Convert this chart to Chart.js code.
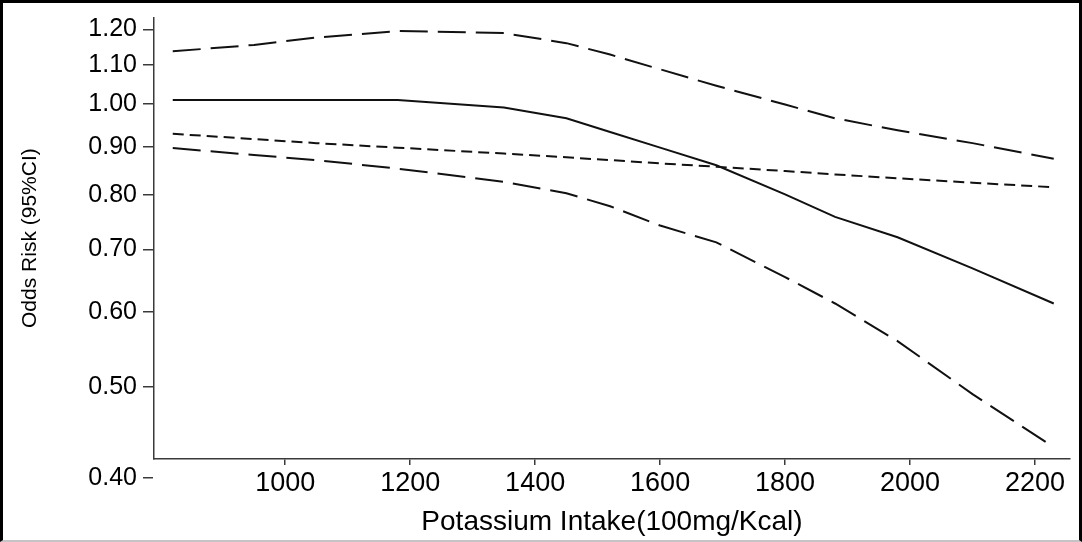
<!DOCTYPE html>
<html><head><meta charset="utf-8">
<script src="https://cdn.jsdelivr.net/npm/chart.js@4.4.1/dist/chart.umd.min.js"></script>
<style>
html,body{margin:0;padding:0;background:#fff;}
#wrap{position:relative;width:1082px;height:542px;overflow:hidden;}
#frame{position:absolute;left:0;top:0;width:1082px;height:542px;box-sizing:border-box;border-top:3px solid #000;border-left:3px solid #000;border-right:3px solid #000;border-bottom:2px solid #c4c4c4;pointer-events:none;}
canvas{position:absolute;left:0;top:0;}
</style></head>
<body><div id="wrap"><canvas id="c" width="1082" height="542"></canvas><div id="frame"></div></div>
<script>
// Potassium intake (x) grid
const intake    = [820, 950, 1050, 1180, 1350, 1450, 1520, 1600, 1690, 1800, 1880, 1980, 2100, 2230];
// Odds risk estimate (solid)
const oddsRisk  = [1.009, 1.009, 1.009, 1.009, 0.991, 0.965, 0.933, 0.898, 0.860, 0.801, 0.758, 0.721, 0.668, 0.613];
// 95% CI bounds (long dashes)
const upperCI   = [1.137, 1.155, 1.176, 1.195, 1.189, 1.160, 1.128, 1.088, 1.045, 0.998, 0.965, 0.937, 0.908, 0.874];
const lowerCI   = [0.897, 0.882, 0.871, 0.853, 0.826, 0.803, 0.778, 0.742, 0.712, 0.654, 0.613, 0.559, 0.491, 0.431];
// Reference line (short dashes)
const refLine   = [0.929, 0.917, 0.908, 0.898, 0.885, 0.877, 0.871, 0.864, 0.857, 0.848, 0.841, 0.833, 0.824, 0.815];
// Axis ticks and ranges
const xTicks = [1000, 1200, 1400, 1600, 1800, 2000, 2200];
const yTicks = [0.40, 0.50, 0.60, 0.70, 0.80, 0.90, 1.00, 1.10, 1.20];
const xRange = [790, 2256];
const yRange = [0.4188, 1.236];

const pts = arr => intake.map((x, i) => ({x: x, y: arr[i]}));
const lineCol = '#111';
const axisCol = '#3a3a3a';
const FONT = '"Liberation Sans", Arial, sans-serif';

new Chart(document.getElementById('c'), {
  type: 'line',
  data: {
    datasets: [
      {label: 'Upper 95% CI', data: pts(upperCI), borderColor: lineCol, borderWidth: 2, borderDash: [28, 10], pointRadius: 0, tension: 0, fill: false},
      {label: 'Odds Risk', data: pts(oddsRisk), borderColor: lineCol, borderWidth: 2, pointRadius: 0, tension: 0, fill: false},
      {label: 'Reference', data: pts(refLine), borderColor: lineCol, borderWidth: 2, borderDash: [11, 6], pointRadius: 0, tension: 0, fill: false},
      {label: 'Lower 95% CI', data: pts(lowerCI), borderColor: lineCol, borderWidth: 2, borderDash: [28, 10], pointRadius: 0, tension: 0, fill: false}
    ]
  },
  options: {
    responsive: false,
    animation: false,
    devicePixelRatio: 1,
    layout: {padding: {left: 0, top: 12, right: 12, bottom: 0}},
    plugins: {legend: {display: false}, tooltip: {enabled: false}},
    scales: {
      x: {
        type: 'linear', min: xRange[0], max: xRange[1],
        afterBuildTicks: s => { s.ticks = xTicks.map(v => ({value: v})); },
        afterFit: s => { s.height = 83; },
        border: {display: true, color: axisCol, width: 1.5},
        grid: {display: true, drawOnChartArea: false, drawTicks: true, tickLength: 6, color: axisCol, tickColor: axisCol, lineWidth: 1.5},
        ticks: {autoSkip: false, maxRotation: 0, padding: 5, color: '#000', font: {family: FONT, size: 27, lineHeight: 1}, callback: v => String(v)},
        title: {display: true, text: 'Potassium Intake(100mg/Kcal)', color: '#000', font: {family: FONT, size: 28, lineHeight: 1}, padding: {top: 0, bottom: 6}}
      },
      y: {
        type: 'logarithmic', min: yRange[0], max: yRange[1], bounds: 'data',
        afterBuildTicks: s => { s.ticks = yTicks.map(v => ({value: v})); },
        afterFit: s => { s.width = 154; },
        border: {display: true, color: axisCol, width: 1.5},
        grid: {display: true, drawOnChartArea: false, drawTicks: true, tickLength: 11, color: axisCol, tickColor: axisCol, lineWidth: 1.5},
        ticks: {autoSkip: false, padding: 6, color: '#000', font: {family: FONT, size: 25, lineHeight: 0.9}, callback: v => Number(v).toFixed(2)},
        title: {display: true, text: 'Odds Risk (95%CI)', color: '#000', font: {family: FONT, size: 21, lineHeight: 1}, padding: {top: 20, bottom: 0}}
      }
    }
  }
});
</script>
</body></html>
